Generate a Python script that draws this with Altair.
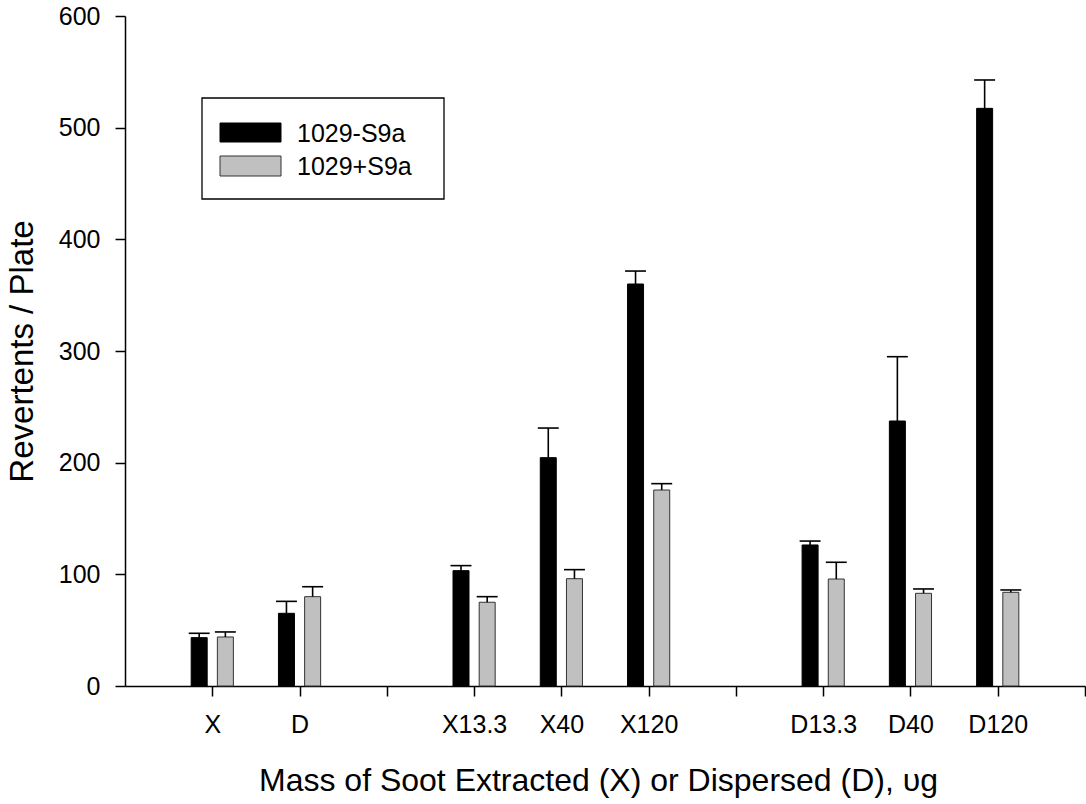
import altair as alt
import pandas as pd

# ---- data ----
group_labels = ["X", "D", "X13.3", "X40", "X120", "D13.3", "D40", "D120"]
group_pos = [1, 2, 4, 5, 6, 8, 9, 10]
series = ["1029-S9a", "1029+S9a"]
minus_vals = [43.3, 65.1, 103.3, 204.5, 360.0, 126.3, 237.3, 517.3]
minus_err = [3.9, 10.7, 4.5, 26.5, 11.6, 3.5, 57.6, 25.4]
plus_vals = [43.9, 80.0, 75.0, 96.1, 175.5, 95.8, 83.0, 83.9]
plus_err = [4.5, 8.9, 5.0, 8.1, 5.7, 15.0, 3.9, 2.1]
y_ticks = [0, 100, 200, 300, 400, 500, 600]

rows = []
for lab, p, v, e in zip(group_labels, group_pos, minus_vals, minus_err):
    rows.append(dict(label=lab, pos=p, series=series[0], value=v, err=e, side=-1))
for lab, p, v, e in zip(group_labels, group_pos, plus_vals, plus_err):
    rows.append(dict(label=lab, pos=p, series=series[1], value=v, err=e, side=1))
df = pd.DataFrame(rows)

FONT = "Liberation Sans"
label_arr = [""] * 12
for p, l in zip(group_pos, group_labels):
    label_arr[p] = l
label_expr = "[" + ",".join(f"'{s}'" for s in label_arr) + "][datum.value]"

xscale = alt.Scale(domain=[0, 11], nice=False, zero=False, padding=0)
yscale = alt.Scale(domain=[0, 600], nice=False, padding=0)

base = alt.Chart(df).transform_calculate(
    xc="datum.pos + datum.side * 0.15",
    top="datum.value + datum.err",
    xl="datum.pos + datum.side * 0.15 - 0.12",
    xr="datum.pos + datum.side * 0.15 + 0.12",
)

x_axis = alt.Axis(
    values=list(range(1, 12)), labelExpr=label_expr, tickSize=10,
    labelPadding=16, labelFontSize=25, labelFont=FONT,
    title="Mass of Soot Extracted (X) or Dispersed (D), \u03c5g",
    titleFontSize=32, titleFont=FONT, titleFontWeight="normal",
    titlePadding=28, titleX=473, labelOverlap=False, grid=False,
)
y_axis = alt.Axis(
    values=y_ticks, tickSize=10, labelPadding=15, labelFontSize=25,
    labelFont=FONT, title="Revertents / Plate", titleFontSize=33,
    titleFont=FONT, titleFontWeight="normal", titlePadding=19, grid=False,
)

bars = base.mark_bar(width=16, strokeWidth=1).encode(
    x=alt.X("xc:Q", scale=xscale, axis=x_axis),
    y=alt.Y("value:Q", scale=yscale, axis=y_axis, stack=None),
    color=alt.Color("series:N", scale=alt.Scale(domain=series, range=["#000000", "#c0c0c0"]), legend=None),
    stroke=alt.Stroke("series:N", scale=alt.Scale(domain=series, range=["#000000", "#333333"]), legend=None),
)
stems = base.mark_rule(color="black", strokeWidth=1.6).encode(
    x="xc:Q", y="value:Q", y2="top:Q"
)
caps = base.mark_rule(color="black", strokeWidth=1.6).encode(
    x="xl:Q", x2="xr:Q", y="top:Q"
)

# ---- legend box (guide drawn by hand) ----
leg_df = pd.DataFrame({"series": series})
leg_box = alt.Chart(leg_df).transform_filter(f"datum.series == '{series[0]}'").mark_rect(
    fill="white", stroke="black", strokeWidth=1.3
).encode(x=alt.value(77), x2=alt.value(319), y=alt.value(82), y2=alt.value(183))

leg_layers = [leg_box]
sw_y = [(107, 126), (140, 160)]
sw_fill = ["#000000", "#c0c0c0"]
sw_stroke = ["#000000", "#333333"]
for i, s in enumerate(series):
    sub = alt.Chart(leg_df).transform_filter(f"datum.series == '{s}'")
    leg_layers.append(sub.mark_rect(fill=sw_fill[i], stroke=sw_stroke[i], strokeWidth=1).encode(
        x=alt.value(95), x2=alt.value(156), y=alt.value(sw_y[i][0]), y2=alt.value(sw_y[i][1])))
    leg_layers.append(sub.mark_text(align="left", baseline="middle", fontSize=25, font=FONT, color="black").encode(
        x=alt.value(172), y=alt.value((sw_y[i][0] + sw_y[i][1]) / 2 + 1), text="series:N"))

chart = alt.layer(bars, stems, caps, *leg_layers).properties(
    width=960, height=670,
    autosize=alt.AutoSizeParams(type="none"),
    padding={"left": 125, "top": 16, "right": 1, "bottom": 118},
).configure_view(stroke=None).configure_axis(
    domainColor="black", domainWidth=1.5, tickColor="black", tickWidth=1.5,
    labelColor="black", titleColor="black",
)

chart.save("out.html", embed_options={"renderer": "svg", "actions": False})
